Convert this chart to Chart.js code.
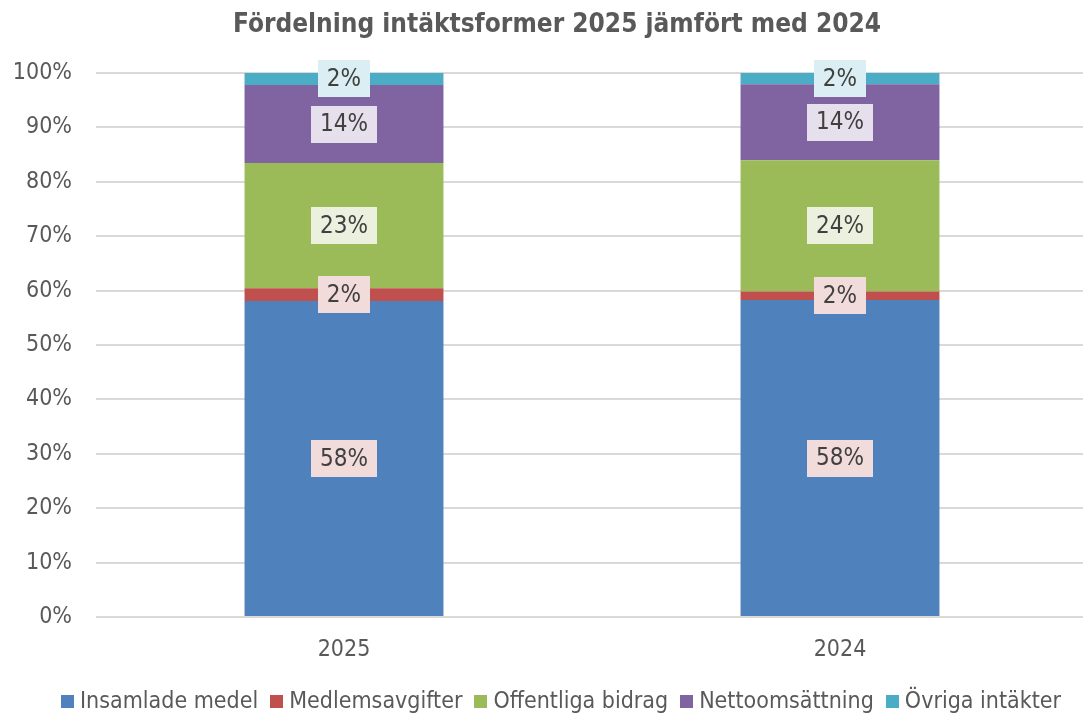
<!DOCTYPE html>
<html>
<head>
<meta charset="utf-8">
<script src="https://cdn.jsdelivr.net/npm/chart.js@4.4.1/dist/chart.umd.min.js"></script>
<style>
  html, body { margin: 0; padding: 0; background: #fff; overflow: hidden; }
  #wrap { width: 1088px; height: 715px; position: relative; }
</style>
</head>
<body>
<div id="wrap"><canvas id="myChart"></canvas></div>
<script>
// data
const years = ['2025', '2024']
const seriesNames = ['Insamlade medel', 'Medlemsavgifter', 'Offentliga bidrag', 'Nettoomsättning', 'Övriga intäkter']
const insamlade = [58.1, 58.25]
const medlemsavgifter = [2.35, 1.6]
const offentliga = [23.0, 24.1]
const nettoomsattning = [14.35, 14.0]
const ovriga = [2.2, 2.05]
const yTicks = [0, 10, 20, 30, 40, 50, 60, 70, 80, 90, 100]
const chartTitle = 'Fördelning intäktsformer 2025 jämfört med 2024'

// styles
const colors = ['#4F81BD', '#C0504D', '#9BBB59', '#8064A2', '#4BACC6']
const labelBg = ['#F2DCDB', '#F2DCDB', '#EBF1DE', '#E5E0EC', '#DAEEF3']
const FONT = "'DejaVu Sans Condensed', 'DejaVu Sans', sans-serif"
const textColor = '#595959'

const allValues = [insamlade, medlemsavgifter, offentliga, nettoomsattning, ovriga]

// percent labels with a light box behind them
const barLabels = {
  id: 'barLabels',
  afterDatasetsDraw(chart) {
    const c = chart.ctx
    c.save()
    c.font = `24px ${FONT}`
    c.textAlign = 'center'
    c.textBaseline = 'middle'
    chart.data.datasets.forEach((ds, i) => {
      const meta = chart.getDatasetMeta(i)
      meta.data.forEach((bar, j) => {
        const txt = Math.round(ds.data[j]) + '%'
        const y = (bar.y + bar.base) / 2
        const w = c.measureText(txt).width + 18
        const h = 37
        c.fillStyle = labelBg[i]
        c.fillRect(Math.round(bar.x - w / 2), Math.round(y - h / 2), Math.round(w), h)
        c.fillStyle = '#404040'
        c.fillText(txt, bar.x, y + 1)
      })
    })
    c.restore()
  }
}

// title and legend drawn by hand to get Excel-like spacing
const titleAndLegend = {
  id: 'titleAndLegend',
  afterDraw(chart) {
    const c = chart.ctx
    c.save()
    c.fillStyle = textColor
    c.textBaseline = 'middle'
    c.textAlign = 'center'
    c.font = `bold 26px ${FONT}`
    c.fillText(chartTitle, 557, 25)

    c.font = `23px ${FONT}`
    c.textAlign = 'left'
    const box = 13, gap = 6, sep = 12
    const widths = seriesNames.map(n => c.measureText(n).width)
    const total = widths.reduce((a, b) => a + b, 0) + seriesNames.length * (box + gap) + (seriesNames.length - 1) * sep
    let x = 561 - total / 2
    const yc = 702
    seriesNames.forEach((n, i) => {
      c.fillStyle = colors[i]
      c.fillRect(Math.round(x), yc - 7, box, box)
      x += box + gap
      c.fillStyle = textColor
      c.fillText(n, x, yc)
      x += widths[i] + sep
    })
    c.restore()
  }
}

const ctx = document.getElementById('myChart')
new Chart(ctx, {
  type: 'bar',
  data: {
    labels: years,
    datasets: seriesNames.map((name, i) => ({
      label: name,
      data: allValues[i],
      backgroundColor: colors[i],
      borderWidth: 0,
      barPercentage: 0.401,
      categoryPercentage: 1
    }))
  },
  options: {
    responsive: true,
    maintainAspectRatio: false,
    animation: false,
    layout: { padding: { left: 0, right: 0, top: 73, bottom: 48 } },
    scales: {
      x: {
        stacked: true,
        grid: { display: false },
        border: { display: false },
        ticks: { color: textColor, font: { family: FONT, size: 23 }, padding: 11 },
        afterFit: axis => { axis.height = 50 }
      },
      y: {
        stacked: true,
        min: 0,
        max: 100,
        afterBuildTicks: axis => { axis.ticks = yTicks.map(v => ({ value: v })) },
        grid: { color: '#D9D9D9', lineWidth: 2, drawTicks: false },
        border: { display: false },
        ticks: {
          color: textColor,
          font: { family: FONT, size: 23 },
          padding: 24,
          callback: v => v + '%'
        },
        afterFit: axis => { axis.width = 96 }
      }
    },
    plugins: {
      title: { display: false },
      legend: { display: false },
      tooltip: { enabled: false }
    }
  },
  plugins: [barLabels, titleAndLegend]
})
</script>
</body>
</html>
